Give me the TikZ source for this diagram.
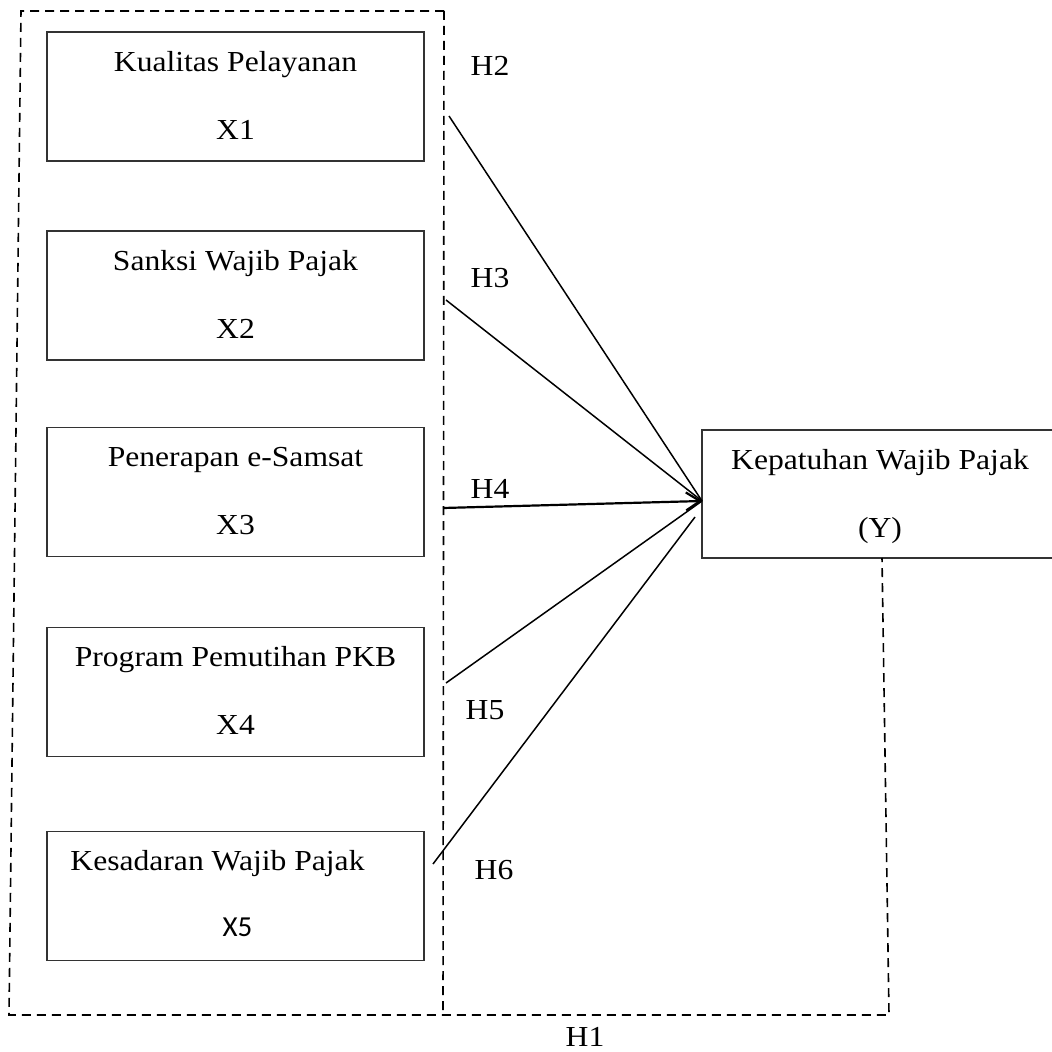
\documentclass[tikz,border=0pt]{standalone}
\usepackage{fontspec}
\setmainfont[FakeStretch=1.09]{Liberation Serif}
\newfontfamily\xfont{Carlito}
\usetikzlibrary{arrows.meta,calc}
\begin{document}
\begin{tikzpicture}[x=0.5pt,y=-0.5pt,
  box/.style={draw=black!80, line width=0.6pt, minimum width=188.5pt, minimum height=64.5pt, inner sep=0pt},
  txt/.style={anchor=base, inner sep=0pt, font=\fontsize{14.5}{17}\selectfont},
  hlbl/.style={anchor=center, inner sep=0pt, font=\fontsize{14.5}{17}\selectfont},
  conn/.style={line width=0.75pt},
  dsh/.style={line width=0.8pt, dash pattern=on 4.5pt off 3pt}]
\useasboundingbox (0,0) rectangle (1052,1052);

% boxes
\node[box] (x1) at (235.5,96.5) {};
\node[box] (x2) at (235.5,295.5) {};
\node[box] (x3) at (235.5,492) {};
\node[box] (x4) at (235.5,692) {};
\node[box] (x5) at (235.5,896) {};
\node[box, minimum width=184pt, minimum height=64pt] (y) at (886,494) {};

% box texts
\node[txt] (x1a) at ($(x1.north)+(0,40)$) {Kualitas Pelayanan};
\node[txt] (x1b) at ($(x1.north)+(0,108)$) {X1};
\node[txt] (x2a) at ($(x2.north)+(0,40)$) {Sanksi Wajib Pajak};
\node[txt] (x2b) at ($(x2.north)+(0,108)$) {X2};
\node[txt] (x3a) at ($(x3.north)+(0,40)$) {Penerapan e-Samsat};
\node[txt] (x3b) at ($(x3.north)+(0,108)$) {X3};
\node[txt] (x4a) at ($(x4.north)+(0,40)$) {Program Pemutihan PKB};
\node[txt] (x4b) at ($(x4.north)+(0,108)$) {X4};
\node[txt] (x5a) at ($(x5.north)+(-18,40)$) {Kesadaran Wajib Pajak};
\node[txt, font=\fontsize{14.5}{17}\xfont] (x5b) at ($(x5.north)+(2,106)$) {X5};
\node[txt] (ya) at (880,469) {Kepatuhan Wajib Pajak};
\node[txt] (yb) at (880,537) {(Y)};

% dashed frame
\coordinate (tl) at (21,11);
\coordinate (tr) at (444,11);
\coordinate (bl) at (9,1015);
\coordinate (bm) at (443,1015);
\coordinate (br) at (889,1015);
\coordinate (yd) at (882,558);
\draw[dsh] (tr) -- (tl) -- (bl) -- (bm) -- (br) -- (yd);
\draw[dsh] (tr) -- (bm);

% connectors
\coordinate (tip) at (702,501);
\coordinate (s2) at (449,116);
\coordinate (s3) at (446,300);
\coordinate (s4) at (443,508);
\coordinate (s5) at (446,683);
\coordinate (s6) at (433,864);
\coordinate (e6) at (695,517);
\draw[conn] (s2) -- (tip);
\draw[conn] (s3) -- (tip);
\draw[conn, line width=1.1pt, -{Straight Barb[length=7pt,width=9pt]}] (s4) -- (tip);
\draw[conn] (s5) -- (tip);
\draw[conn] (s6) -- (e6);

% hypothesis labels
\node[hlbl] (h2) at (490,66) {H2};
\node[hlbl] (h3) at (490,278) {H3};
\node[hlbl] (h4) at (490,489) {H4};
\node[hlbl] (h5) at (485,710) {H5};
\node[hlbl] (h6) at (494,870) {H6};
\node[hlbl] (h1) at (585,1037) {H1};
\end{tikzpicture}
\end{document}
